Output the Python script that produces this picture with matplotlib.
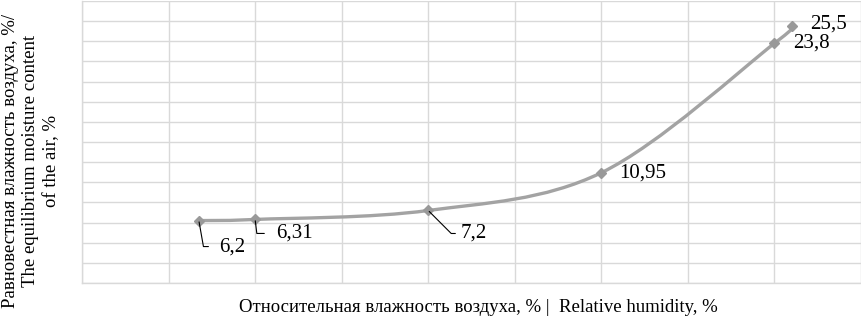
import numpy as np
import matplotlib
matplotlib.use("Agg")
import matplotlib.pyplot as plt
from matplotlib.path import Path
from matplotlib.patches import PathPatch

plt.rcParams['font.family'] = ['Liberation Serif', 'DejaVu Serif']

# relative humidity, % and equilibrium moisture content, %
humidity = [13.5, 20, 40, 60, 80, 82]
moisture = [6.2, 6.31, 7.2, 10.95, 23.8, 25.5]
point_labels = ["6,2", "6,31", "7,2", "10,95", "23,8", "25,5"]

x_label = "Относительная влажность воздуха, % |  Relative humidity, %"
y_label = "Равновестная влажность воздуха, %/\nThe equilibrium moisture content\nof the air, %"

# label placement: offset of the text (px), direction of the leader from the marker, gap (pt)
label_offsets = [(20, -26), (21, -14), (32, -23), (18, 0), (19, 0), (18, 2)]
leader_angles = [100, 97, 135, None, None, None]
leader_gaps = [5.5, 6.5, 1.5, 0, 0, 0]

line_color = "#A3A3A3"
grid_color = "#D9D9D9"


def smooth_path(xs, ys):
    # Excel-like smoothed line: cubic bezier segments through the points
    pts = np.column_stack([xs, ys]).astype(float)
    n = len(pts)
    verts = [pts[0]]
    codes = [Path.MOVETO]
    for i in range(n - 1):
        p0 = pts[i - 1] if i > 0 else pts[i]
        p1 = pts[i]
        p2 = pts[i + 1]
        p3 = pts[i + 2] if i + 2 < n else pts[i + 1]
        c1 = p1 + (p2 - p0) / 6.0
        c2 = p2 - (p3 - p1) / 6.0
        verts += [c1, c2, p2]
        codes += [Path.CURVE4] * 3
    return Path(verts, codes)


fig = plt.figure(figsize=(8.61, 3.19), dpi=100)
W, H = 861, 319
ax = fig.add_axes([82 / W, (H - 283) / H, (W - 82) / W, (283 - 1) / H])

ax.set_xlim(0, 90)
ax.set_ylim(0, 28)
ax.set_xticks(np.arange(0, 91, 10))
ax.set_yticks(np.arange(0, 29, 2))
ax.grid(True, color=grid_color, linewidth=1.0)
ax.set_axisbelow(True)
ax.tick_params(length=0, labelbottom=False, labelleft=False)
for side in ["top", "right"]:
    ax.spines[side].set_visible(False)
for side in ["left", "bottom"]:
    ax.spines[side].set_color(grid_color)
    ax.spines[side].set_linewidth(1.0)

ax.add_patch(PathPatch(smooth_path(humidity, moisture), facecolor="none",
                       edgecolor=line_color, linewidth=2.4, capstyle="round", zorder=3))
ax.plot(humidity, moisture, linestyle="none", marker="D", markersize=5.5,
        color="#999999", zorder=4)

for x, y, txt, off, ang, gap in zip(humidity, moisture, point_labels,
                                    label_offsets, leader_angles, leader_gaps):
    props = None
    if ang is not None:
        props = dict(arrowstyle="-", color="black", linewidth=0.8,
                     connectionstyle=f"angle,angleA=0,angleB={ang},rad=0",
                     relpos=(0, 0.5), shrinkA=gap, shrinkB=1)
    ax.annotate(txt, xy=(x, y), xytext=off, textcoords="offset pixels",
                ha="left", va="center", fontsize=15, color="black",
                arrowprops=props, zorder=5)

fig.text(478 / W, 1 - 307 / H, x_label, ha="center", va="center", fontsize=13.5)
fig.text(31 / W, 1 - 161 / H, y_label, ha="center", va="center", rotation=90,
         multialignment="center", fontsize=13.5, linespacing=1.3)

fig.savefig("out.png", dpi=100)
